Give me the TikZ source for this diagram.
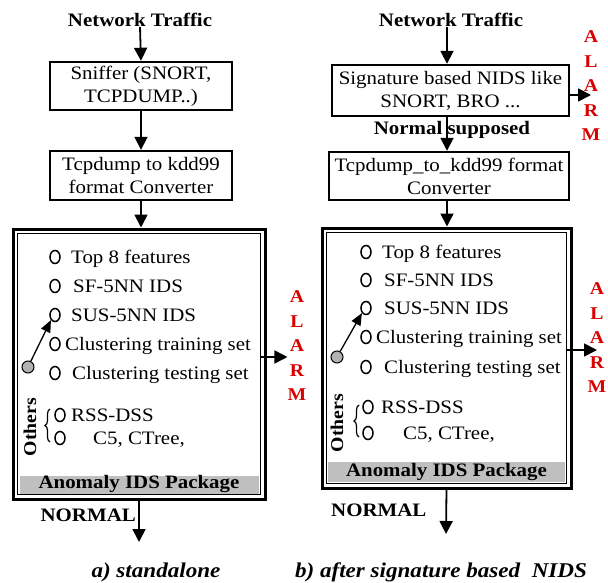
\documentclass[tikz,border=0pt]{standalone}
\usepackage{fontspec}
\setmainfont[FakeStretch=1.1]{Liberation Serif}
\usetikzlibrary{arrows.meta,shapes.geometric,decorations.pathreplacing}
\begin{document}
\begin{tikzpicture}[x=1pt,y=-1pt,
  txt/.style={font=\fontsize{19}{22}\selectfont, inner sep=0pt},
  btxt/.style={font=\bfseries\fontsize{19}{22}\selectfont, inner sep=0pt},
  stepbox/.style={draw, line width=2.4pt, align=center, inner sep=0pt, font=\fontsize{19}{23}\selectfont},
  pkg/.style={draw, line width=3pt, inner sep=0pt},
  bar/.style={fill=black!25, inner sep=0pt, font=\bfseries\fontsize{19}{22}\selectfont},
  circ/.style={ellipse, draw, line width=1.5pt, minimum width=10pt, minimum height=13pt, inner sep=0pt},
  gcirc/.style={circle, draw, line width=1pt, fill=black!30, minimum size=12pt, inner sep=0pt},
  arr/.style={line width=1.8pt, -{Triangle[width=13pt,length=13pt]}},
  sarr/.style={line width=1.3pt, -{Triangle[width=10pt,length=12pt]}},
  alarm/.style={text=red!85!black, align=center, inner sep=0pt, font=\bfseries\fontsize{18}{24.5}\selectfont},
  captxt/.style={inner sep=0pt, font=\bfseries\itshape\fontsize{21}{24}\selectfont},
  rot/.style={rotate=90, inner sep=0pt, font=\bfseries\fontsize{18}{22}\selectfont}
]
\useasboundingbox (0,0) rectangle (608,583);

% ---------------- left panel ----------------
\node[btxt] (nt1) at (140,20) {Network Traffic};
\node[stepbox, minimum width=182pt, minimum height=48pt] (sn1) at (141,86) {Sniffer (SNORT,\\TCPDUMP..)};
\node[stepbox, minimum width=182pt, minimum height=49pt] (cv1) at (141,175.5) {Tcpdump to kdd99\\format Converter};
\node[pkg, minimum width=252pt, minimum height=270pt] (pk1) at (139,364) {};
\draw[line width=1.2pt] ([shift={(6pt,-6pt)}]pk1.north west) rectangle ([shift={(-6pt,6pt)}]pk1.south east);
\node[bar, minimum width=239pt, minimum height=18pt] (bar1) at (139,484.5) {Anomaly IDS Package};

\draw[arr] (nt1.south) -- (sn1.north);
\draw[arr] (sn1.south) -- (cv1.north);
\draw[arr] (cv1.south) -- (cv1.south |- pk1.north);

\node[circ] (c1a) at (55,257) {};
\node[circ] (c2a) at (55,286) {};
\node[circ] (c3a) at (55,315) {};
\node[circ] (c4a) at (55,344) {};
\node[circ] (c5a) at (55,373) {};
\node[txt, anchor=base west] (t1a) at (71,263) {Top 8 features};
\node[txt, anchor=base west] (t2a) at (73,292) {SF-5NN IDS};
\node[txt, anchor=base west] (t3a) at (71,321) {SUS-5NN IDS};
\node[txt, anchor=base west] (t4a) at (65,350) {Clustering training set};
\node[txt, anchor=base west] (t5a) at (72,379) {Clustering testing set};
\node[gcirc] (g1) at (28,367) {};
\draw[sarr] (g1) -- (c3a.south west);

\node[rot] (oth1) at (30,427) {Others};
\draw[line width=1.2pt, decorate, decoration={brace, amplitude=5pt}] (50,442) -- (50,409);
\node[circ] (c6a) at (60,415) {};
\node[circ] (c7a) at (60,438) {};
\node[txt, anchor=base west] (t6a) at (71,421) {RSS-DSS};
\node[txt, anchor=base west] (t7a) at (93,444) {C5, CTree,};

\node[alarm] (al1) at (297,346) {A\\L\\A\\R\\M};
\draw[arr] ([xshift=-7pt]pk1.east |- 0,357) coordinate (s1) -- (s1 -| al1.west);

\node[btxt, anchor=east] (nm1) at (136,515) {NORMAL};
\coordinate (e1) at (139,542);
\draw[arr] (pk1.south) -- (e1);
\node[captxt] (ca) at (156,572) {a) standalone};

% ---------------- right panel ----------------
\node[btxt] (nt2) at (451,20) {Network Traffic};
\node[stepbox, minimum width=237pt, minimum height=51pt] (sg2) at (450.5,90.5) {Signature based NIDS like\\SNORT, BRO ...};
\node[stepbox, minimum width=240pt, minimum height=48pt] (cv2) at (449,176) {Tcpdump\_to\_kdd99 format\\Converter};
\node[pkg, minimum width=249pt, minimum height=260pt] (pk2) at (446.5,358) {};
\draw[line width=1.2pt] ([shift={(6pt,-6pt)}]pk2.north west) rectangle ([shift={(-6pt,6pt)}]pk2.south east);
\node[bar, minimum width=237pt, minimum height=20pt] (bar2) at (446.5,472) {Anomaly IDS Package};

\draw[arr] (nt2.south -| 447,0) -- (sg2.north -| 447,0) ;
\draw[arr] (sg2.south -| 447,0) -- (cv2.north -| 447,0);
\node[btxt] (ns2) at (452,130) {Normal supposed};
\draw[arr] (cv2.south -| 447,0) -- (pk2.north -| 447,0);

\node[alarm] (al2) at (591,86) {A\\L\\A\\R\\M};
\draw[arr] ([yshift=-4.5pt]sg2.east) -- ([yshift=-4.5pt]sg2.east -| al2.center);

\node[circ] (c1b) at (366,252) {};
\node[circ] (c2b) at (366,280) {};
\node[circ] (c3b) at (366,308) {};
\node[circ] (c4b) at (366,337) {};
\node[circ] (c5b) at (366,367) {};
\node[txt, anchor=base west] (t1b) at (382,258) {Top 8 features};
\node[txt, anchor=base west] (t2b) at (384,286) {SF-5NN IDS};
\node[txt, anchor=base west] (t3b) at (384,314) {SUS-5NN IDS};
\node[txt, anchor=base west] (t4b) at (376,343) {Clustering training set};
\node[txt, anchor=base west] (t5b) at (384,373) {Clustering testing set};
\node[gcirc] (g2) at (337,357) {};
\draw[sarr] (g2) -- (c3b.south west);

\node[rot] (oth2) at (337,423) {Others};
\draw[line width=1.2pt, decorate, decoration={brace, amplitude=5pt}] (359,437) -- (359,405);
\node[circ] (c6b) at (368,407) {};
\node[circ] (c7b) at (368,433) {};
\node[txt, anchor=base west] (t6b) at (381,413) {RSS-DSS};
\node[txt, anchor=base west] (t7b) at (403,439) {C5, CTree,};

\node[alarm] (al3) at (597,338) {A\\L\\A\\R\\M};
\draw[arr] ([xshift=-7pt]pk2.east |- 0,350) coordinate (s3) -- (s3 -| al3.center);

\node[btxt, anchor=west] (nm2) at (331,510) {NORMAL};
\coordinate (e2) at (446,534);
\draw[arr] (pk2.south) -- (e2);
\node[captxt] (cb) at (441,572) {b) after signature based\ \ NIDS};
\end{tikzpicture}
\end{document}
